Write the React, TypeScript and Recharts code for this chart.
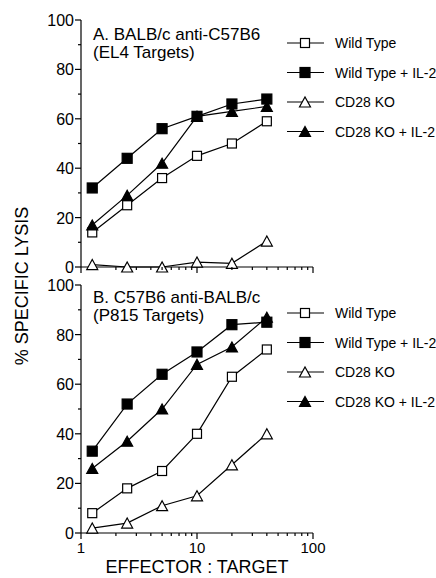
import { Legend, Line, LineChart, XAxis, YAxis } from "recharts";

const FONT = '"Liberation Sans", Arial, sans-serif';

const EFFECTOR_TARGET = [1.25, 2.5, 5, 10, 20, 40];

// Panel A – BALB/c anti-C57B6 (EL4 targets)
const A_WILD_TYPE = [14, 25, 36, 45, 50, 59];
const A_WILD_TYPE_IL2 = [32, 44, 56, 61, 66, 68];
const A_CD28_KO = [1, 0, 0, 2, 1.5, 10.5];
const A_CD28_KO_IL2 = [17, 29, 42, 61, 63, 65];

// Panel B – C57B6 anti-BALB/c (P815 targets)
const B_WILD_TYPE = [8, 18, 25, 40, 63, 74];
const B_WILD_TYPE_IL2 = [33, 52, 64, 73, 84, 85];
const B_CD28_KO = [2, 4, 11, 15, 27.5, 40];
const B_CD28_KO_IL2 = [26, 37, 50, 68, 75, 87];

const SERIES_NAMES = ["Wild Type", "Wild Type + IL-2", "CD28 KO", "CD28 KO + IL-2"];
const MARKERS = ["openSquare", "filledSquare", "openTriangle", "filledTriangle"];

const X_TICKS = [1, 2, 3, 4, 5, 6, 7, 8, 9, 10, 20, 30, 40, 50, 60, 70, 80, 90, 100];
const X_LABELS = [1, 10, 100];
const Y_TICKS = [0, 10, 20, 30, 40, 50, 60, 70, 80, 90, 100];
const Y_LABELS = [0, 20, 40, 60, 80, 100];

const PANEL_A_TITLE = ["A. BALB/c anti-C57B6", "(EL4 Targets)"];
const PANEL_B_TITLE = ["B. C57B6 anti-BALB/c", "(P815 Targets)"];

function buildRows(series: number[][]) {
  return EFFECTOR_TARGET.map((et, i) => ({
    et,
    s0: series[0][i],
    s1: series[1][i],
    s2: series[2][i],
    s3: series[3][i],
  }));
}

function Marker({ kind, cx, cy }: { kind: string; cx: number; cy: number }) {
  if (kind === "openSquare" || kind === "filledSquare") {
    const s = kind === "filledSquare" ? 10 : 9;
    return (
      <rect
        x={cx - s / 2}
        y={cy - s / 2}
        width={s}
        height={s}
        fill={kind === "filledSquare" ? "#000" : "#fff"}
        stroke="#000"
        strokeWidth={1.2}
      />
    );
  }
  const w = 11;
  const h = 10;
  const pts = `${cx - w / 2},${cy + h / 2} ${cx + w / 2},${cy + h / 2} ${cx},${cy - h / 2}`;
  return (
    <polygon
      points={pts}
      fill={kind === "filledTriangle" ? "#000" : "#fff"}
      stroke="#000"
      strokeWidth={1.2}
    />
  );
}

function makeDot(kind: string) {
  return (props: any) => {
    const { cx, cy, index } = props;
    if (cx == null || cy == null) return <g key={`d-${index}`} />;
    return (
      <g key={`d-${index}`}>
        <Marker kind={kind} cx={cx} cy={cy} />
      </g>
    );
  };
}

function YTick(props: any) {
  const { x, y, payload } = props;
  const major = Y_LABELS.includes(payload.value);
  return (
    <g>
      <line x1={x - (major ? 6 : 3)} x2={x} y1={y} y2={y} stroke="#000" strokeWidth={1.2} />
      {major && (
        <text x={x - 7} y={y + 6} textAnchor="end" fontSize={16} fontFamily={FONT} fill="#000">
          {payload.value}
        </text>
      )}
    </g>
  );
}

function makeXTick(showLabels: boolean) {
  return (props: any) => {
    const { x, y, payload } = props;
    const major = X_LABELS.includes(payload.value);
    return (
      <g>
        <line x1={x} x2={x} y1={y} y2={y + (major ? 6 : 3)} stroke="#000" strokeWidth={1.2} />
        {showLabels && major && (
          <text x={x} y={y + 20} textAnchor="middle" fontSize={15} fontFamily={FONT} fill="#000">
            {payload.value}
          </text>
        )}
      </g>
    );
  };
}

function LegendBox() {
  return (
    <svg width={156} height={120}>
      {SERIES_NAMES.map((name, i) => {
        const y = 8 + i * 29.5;
        return (
          <g key={name}>
            <line x1={5} x2={42} y1={y} y2={y} stroke="#000" strokeWidth={1.2} />
            <Marker kind={MARKERS[i]} cx={23} cy={y} />
            <text x={53} y={y + 5} fontSize={14} fontFamily={FONT} fill="#000">
              {name}
            </text>
          </g>
        );
      })}
    </svg>
  );
}

function Panel({
  series,
  height,
  top,
  xAxisHeight,
  showXLabels,
  legendTop,
}: {
  series: number[][];
  height: number;
  top: number;
  xAxisHeight: number;
  showXLabels: boolean;
  legendTop: number;
}) {
  const data = buildRows(series);
  return (
    <LineChart width={436} height={height} data={data} margin={{ top, right: 123, bottom: 0, left: 0 }}>
      <XAxis
        dataKey="et"
        type="number"
        scale="log"
        domain={[1, 100]}
        ticks={X_TICKS}
        interval={0}
        tick={makeXTick(showXLabels)}
        tickLine={false}
        tickSize={0}
        tickMargin={0}
        height={xAxisHeight}
        axisLine={{ stroke: "#000", strokeWidth: 1.2 }}
      />
      <YAxis
        type="number"
        domain={[0, 100]}
        ticks={Y_TICKS}
        interval={0}
        tick={<YTick />}
        tickLine={false}
        tickSize={0}
        tickMargin={0}
        width={81}
        axisLine={{ stroke: "#000", strokeWidth: 1.2 }}
      />
      <Legend
        layout="vertical"
        align="center"
        verticalAlign="middle"
        content={() => <LegendBox />}
        wrapperStyle={{ left: 282, top: legendTop, width: 156 }}
      />
      {SERIES_NAMES.map((name, i) => (
        <Line
          key={name}
          dataKey={`s${i}`}
          name={name}
          stroke="#000"
          strokeWidth={1.2}
          dot={makeDot(MARKERS[i])}
          activeDot={false}
          isAnimationActive={false}
        />
      ))}
    </LineChart>
  );
}

export default function App() {
  return (
    <div
      style={{
        position: "absolute",
        left: 0,
        top: 0,
        width: 436,
        height: 578,
        background: "#fff",
        fontFamily: FONT,
      }}
    >
      <div style={{ position: "absolute", left: 0, top: 0 }}>
        <Panel
          series={[A_WILD_TYPE, A_WILD_TYPE_IL2, A_CD28_KO, A_CD28_KO_IL2]}
          height={290}
          top={20}
          xAxisHeight={23}
          showXLabels={false}
          legendTop={35}
        />
      </div>
      <div style={{ position: "absolute", left: 0, top: 270 }}>
        <Panel
          series={[B_WILD_TYPE, B_WILD_TYPE_IL2, B_CD28_KO, B_CD28_KO_IL2]}
          height={308}
          top={15}
          xAxisHeight={45}
          showXLabels={true}
          legendTop={35}
        />
      </div>
      <svg
        width={436}
        height={578}
        style={{ position: "absolute", left: 0, top: 0, pointerEvents: "none" }}
      >
        <text x={93} y={40} fontSize={17} fontFamily={FONT}>{PANEL_A_TITLE[0]}</text>
        <text x={93} y={58} fontSize={17} fontFamily={FONT}>{PANEL_A_TITLE[1]}</text>
        <text x={93} y={303} fontSize={17} fontFamily={FONT}>{PANEL_B_TITLE[0]}</text>
        <text x={93} y={321} fontSize={17} fontFamily={FONT}>{PANEL_B_TITLE[1]}</text>
        <text
          transform="translate(28,286) rotate(-90)"
          textAnchor="middle"
          fontSize={18}
          fontFamily={FONT}
        >
          % SPECIFIC LYSIS
        </text>
        <text x={197} y={573} textAnchor="middle" fontSize={18} fontFamily={FONT}>
          EFFECTOR : TARGET
        </text>
      </svg>
    </div>
  );
}
